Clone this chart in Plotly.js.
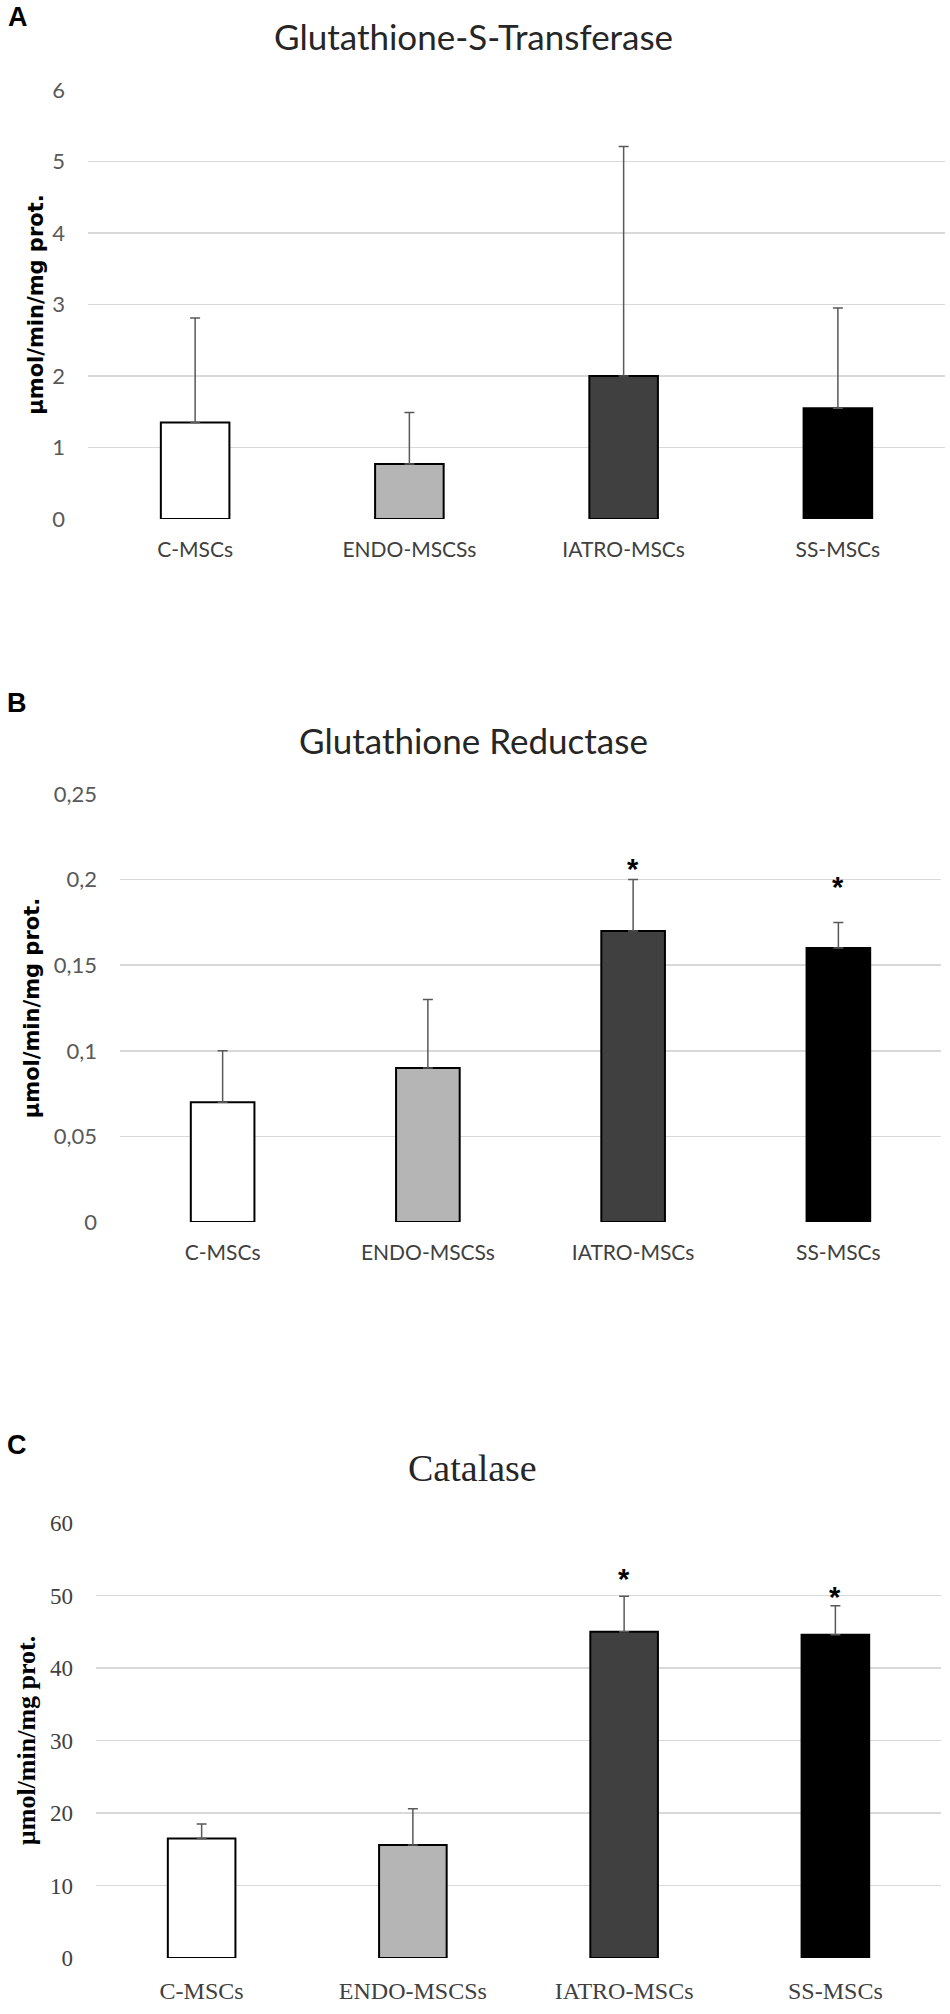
<!DOCTYPE html>
<html>
<head>
<meta charset="utf-8">
<script src="https://cdn.plot.ly/plotly-3.0.1.min.js"></script>
<style>
  html, body { margin: 0; padding: 0; background: #fff; }
  #graph { width: 950px; height: 2014px; }
</style>
</head>
<body>
<div id="graph"></div>
<script>
// categories shared by the three panels
var groups = ['C-MSCs', 'ENDO-MSCSs', 'IATRO-MSCs', 'SS-MSCs'];
var barColors = ['#ffffff', '#b5b5b5', '#404040', '#000000'];

// A - Glutathione-S-Transferase
var gstMean = [1.35, 0.77, 2.0, 1.55];
var gstErr = [1.46, 0.72, 3.21, 1.40];

// B - Glutathione Reductase
var grMean = [0.07, 0.09, 0.17, 0.16];
var grErr = [0.03, 0.04, 0.03, 0.015];
var grStar = [null, null, 0.21, 0.2];

// C - Catalase
var catMean = [16.5, 15.6, 45.0, 44.6];
var catErr = [2.0, 5.0, 4.9, 4.0];
var catStar = [null, null, 53.2, 50.8];

var W = 950, H = 2014;
function px(x) { return x / W; }
function py(y) { return 1 - y / H; }

var sans = 'Lato, "Open Sans", sans-serif';
var wideSans = '"DejaVu Sans", Verdana, sans-serif';
var serif = '"Liberation Serif", "DejaVu Serif", serif';

/**
 * Builds one bar trace with upper-only error bars.
 */
function barTrace(mean, err, xa, ya, w) {
    return {
        type: 'bar',
        x: groups,
        y: mean,
        xaxis: xa,
        yaxis: ya,
        width: w,
        marker: {
            color: barColors,
            line: { color: '#000000', width: 2 }
        },
        error_y: {
            type: 'data',
            symmetric: false,
            array: err,
            arrayminus: mean.map(function() { return 0; }),
            color: '#595959',
            thickness: 1.5,
            width: 5
        },
        hoverinfo: 'none'
    };
}

var data = [
    barTrace(gstMean, gstErr, 'x', 'y', 0.32),
    barTrace(grMean, grErr, 'x2', 'y2', 0.31),
    barTrace(catMean, catErr, 'x3', 'y3', 0.32)
];

function xAxis(l, r, fam, size, anchor) {
    return {
        domain: [px(l), px(r)],
        anchor: anchor,
        showline: false,
        showgrid: false,
        zeroline: false,
        ticks: '',
        ticklabelstandoff: 16,
        tickfont: { family: fam, size: size, color: '#404040' }
    };
}

function yAxis(b, t, range, dtick, fam, size, tickColor, titleFam, titleSize, standoff, anchor) {
    return {
        domain: [py(b), py(t)],
        anchor: anchor,
        range: range,
        dtick: dtick,
        showgrid: true,
        gridcolor: '#d9d9d9',
        gridwidth: 1.5,
        zeroline: false,
        showline: false,
        ticks: '',
        ticklabelstandoff: 22,
        tickfont: { family: fam, size: size, color: tickColor },
        title: {
            text: 'µmol/min/mg prot.',
            standoff: standoff,
            font: { family: titleFam, size: titleSize, color: '#000000', weight: 'bold' }
        }
    };
}

var annotations = [
    { text: 'A', x: px(18), y: py(17) },
    { text: 'B', x: px(17), y: py(703) },
    { text: 'C', x: px(17), y: py(1445) }
].map(function(a) {
    return {
        text: a.text, x: a.x, y: a.y, xref: 'paper', yref: 'paper',
        showarrow: false, xanchor: 'center', yanchor: 'middle',
        font: { family: '"Liberation Sans", Arial, sans-serif', size: 27, color: '#000', weight: 'bold' }
    };
});

var titles = [
    { text: 'Glutathione-S-Transferase', x: px(473), y: py(36), fam: sans, size: 35 },
    { text: 'Glutathione Reductase', x: px(473), y: py(740), fam: sans, size: 35 },
    { text: 'Catalase', x: px(472), y: py(1468), fam: serif, size: 38 }
];
titles.forEach(function(t) {
    annotations.push({
        text: t.text, x: t.x, y: t.y, xref: 'paper', yref: 'paper',
        showarrow: false, xanchor: 'center', yanchor: 'middle',
        font: { family: t.fam, size: t.size, color: '#262626' }
    });
});

// significance asterisks
function addStars(star, xr, yr) {
    for (var i = 0; i < groups.length; i++) {
        if (star[i] === null) continue;
        annotations.push({
            text: '*', x: groups[i], y: star[i], xref: xr, yref: yr,
            showarrow: false, xanchor: 'center', yanchor: 'middle', yshift: -7,
            font: { family: '"Liberation Sans", Arial, sans-serif', size: 29, color: '#000', weight: 'bold' }
        });
    }
}
addStars(grStar, 'x2', 'y2');
addStars(catStar, 'x3', 'y3');

var layout = {
    width: W,
    height: H,
    showlegend: false,
    paper_bgcolor: '#ffffff',
    plot_bgcolor: '#ffffff',
    separators: ', ',
    margin: { l: 0, r: 0, t: 0, b: 0 },
    xaxis: xAxis(88, 945, sans, 21, 'y'),
    xaxis2: xAxis(120, 941, sans, 21, 'y2'),
    xaxis3: xAxis(96, 941, serif, 24, 'y3'),
    yaxis: yAxis(519, 90, [0, 6], 1, sans, 22, '#595959', wideSans, 21, 2, 'x'),
    yaxis2: yAxis(1222, 794, [0, 0.25], 0.05, sans, 22, '#595959', wideSans, 21, 8, 'x2'),
    yaxis3: yAxis(1958, 1523, [0, 60], 10, serif, 23, '#404040', serif, 26, 6, 'x3'),
    annotations: annotations
};

var graph = document.getElementById('graph');
Plotly.newPlot(graph, data, layout, { staticPlot: true });
</script>
</body>
</html>
